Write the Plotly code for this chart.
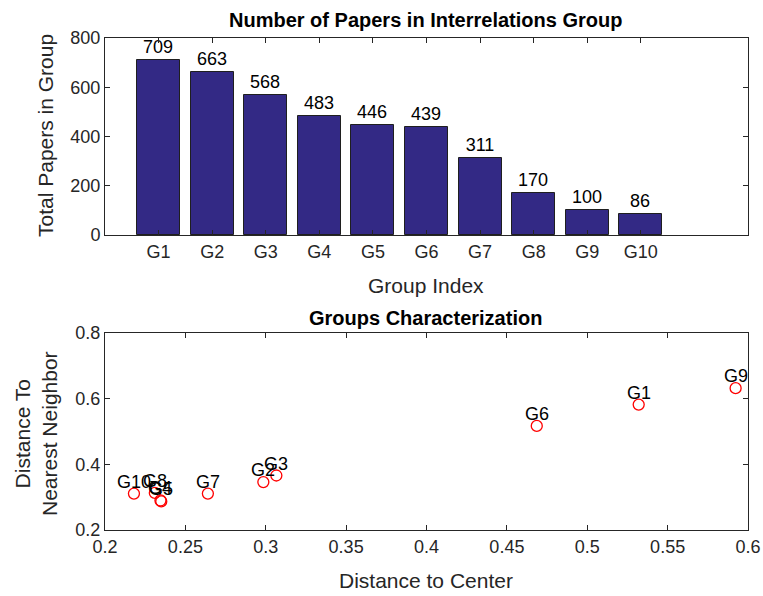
import plotly.graph_objects as go

# ---- data ----
groups = ["G1", "G2", "G3", "G4", "G5", "G6", "G7", "G8", "G9", "G10"]
group_index = [1, 2, 3, 4, 5, 6, 7, 8, 9, 10]
papers = [709, 663, 568, 483, 446, 439, 311, 170, 100, 86]

dist_center = [0.532, 0.2985, 0.3066, 0.2345, 0.2350, 0.4686, 0.264, 0.231, 0.5923, 0.218]
dist_neighbor = [0.582, 0.346, 0.366, 0.290, 0.287, 0.517, 0.311, 0.313, 0.632, 0.311]

bar_yticks = [0, 200, 400, 600, 800]
sc_xticks = [0.2, 0.25, 0.3, 0.35, 0.4, 0.45, 0.5, 0.55, 0.6]
sc_xticktext = ["0.2", "0.25", "0.3", "0.35", "0.4", "0.45", "0.5", "0.55", "0.6"]
sc_yticks = [0.2, 0.4, 0.6, 0.8]
sc_yticktext = ["0.2", "0.4", "0.6", "0.8"]

W, H = 763, 596
FONT = "Liberation Sans, Arial, sans-serif"
AX = "#262626"

def px_x(p):
    return p / W

def px_y(p):
    return 1 - p / H

fig = go.Figure()

fig.add_trace(go.Bar(
    x=group_index, y=papers, width=0.8,
    marker=dict(color="#332985", line=dict(color="#1f1f1f", width=1)),
    text=[str(v) for v in papers], textposition="outside",
    textfont=dict(family=FONT, size=18, color="black"),
    cliponaxis=False, xaxis="x", yaxis="y", showlegend=False,
))

fig.add_trace(go.Scatter(
    x=dist_center, y=dist_neighbor, mode="markers",
    marker=dict(symbol="circle-open", color="red", size=11, line=dict(width=1.3, color="red")),
    xaxis="x2", yaxis="y2", showlegend=False, cliponaxis=False,
))

axis_common = dict(
    showline=True, linecolor=AX, linewidth=1, mirror="ticks",
    ticks="inside", ticklen=5, tickcolor=AX, tickwidth=1,
    showgrid=False, zeroline=False, automargin=False,
    tickfont=dict(family=FONT, size=18, color=AX),
)

xd = [px_x(105), px_x(748)]
fig.update_layout(
    width=W, height=H,
    margin=dict(l=0, r=0, t=0, b=0, autoexpand=False),
    plot_bgcolor="white", paper_bgcolor="white",
    xaxis=dict(domain=xd, range=[0, 12], tickvals=group_index, ticktext=groups,
               anchor="y", **axis_common),
    yaxis=dict(domain=[px_y(235), px_y(38)], range=[0, 800], tickvals=bar_yticks,
               anchor="x", **axis_common),
    xaxis2=dict(domain=xd, range=[0.2, 0.6], tickvals=sc_xticks, ticktext=sc_xticktext,
                anchor="y2", **axis_common),
    yaxis2=dict(domain=[px_y(530), px_y(333)], range=[0.2, 0.8], tickvals=sc_yticks,
                ticktext=sc_yticktext, anchor="x2", **axis_common),
    bargap=0,
)

ann = []
# point labels
for g, xv, yv in zip(groups, dist_center, dist_neighbor):
    ann.append(dict(x=xv, y=yv, xref="x2", yref="y2", text=g, showarrow=False,
                    xanchor="center", yanchor="middle",
                    yshift=12, font=dict(family=FONT, size=18, color="black")))

def label(x, y, text, size, color, angle=0):
    return dict(x=px_x(x), y=px_y(y), xref="paper", yref="paper", text=text,
                showarrow=False, textangle=angle, xanchor="center", yanchor="middle",
                font=dict(family=FONT, size=size, color=color))

ann += [
    label(426, 20, "<b>Number of Papers in Interrelations Group</b>", 20, "black"),
    label(426, 318, "<b>Groups Characterization</b>", 20, "black"),
    label(426, 286, "Group Index", 21, AX),
    label(426, 580, "Distance to Center", 21, AX),
    label(45, 136, "Total Papers in Group", 21, AX, -90),
    label(36, 434, "Distance To<br>Nearest Neighbor", 21, AX, -90),
]
fig.update_layout(annotations=ann)

fig.write_html("out.html", config={"displayModeBar": False},
               post_script="document.body.style.margin='0';document.body.style.overflow='hidden';")
